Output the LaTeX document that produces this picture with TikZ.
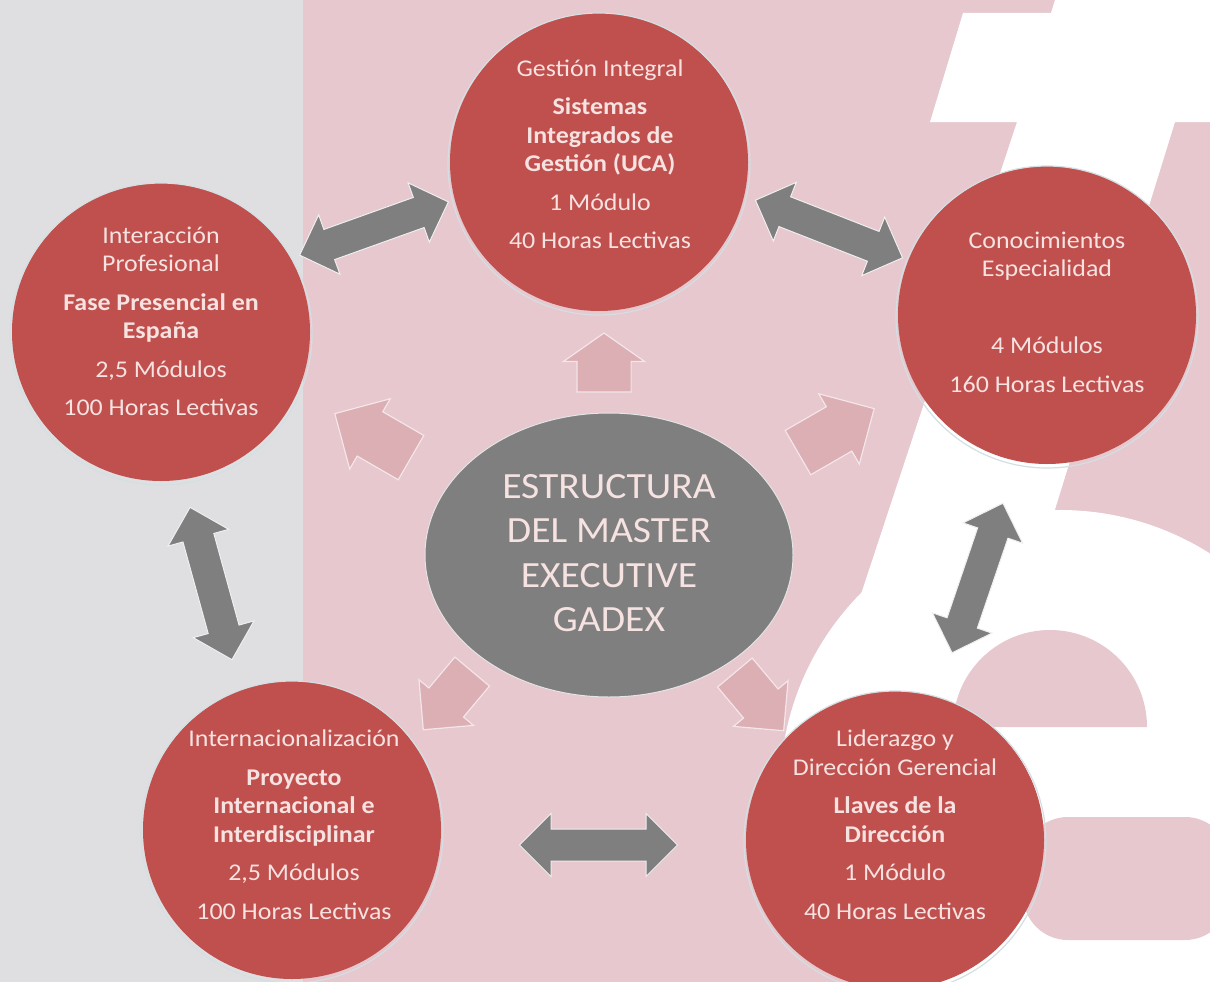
\documentclass[tikz,border=0pt]{standalone}
\usepackage{fontspec}
\setmainfont{Carlito}
\usetikzlibrary{shapes.arrows, shapes.geometric, positioning, calc}

\definecolor{fondogris}{HTML}{DFDFE1}
\definecolor{fondorosa}{HTML}{E6C8CE}
\definecolor{rojomod}{HTML}{C0504D}
\definecolor{rosatxt}{HTML}{F5E2E1}
\definecolor{grisflecha}{HTML}{7F7F7F}
\definecolor{rosaflecha}{HTML}{DBAFB4}
\definecolor{borde}{HTML}{D3DFE3}

\tikzset{
  modulo/.style={circle, fill=rojomod, minimum size=298pt, inner sep=0pt},
  anillo/.style={draw=borde, line width=1.2pt},
  modtxt/.style={text=rosatxt, align=center, inner sep=0pt, xscale=1.08,
    font=\fontsize{24}{28.5}\selectfont},
  flechaD/.style={double arrow, fill=grisflecha, draw=white!88!gray, line width=1pt,
    minimum height=158pt, inner xsep=0pt, inner ysep=15.5pt, double arrow head extend=15.5pt,
    double arrow head indent=0pt},
  flechaS/.style={single arrow, fill=rosaflecha, draw=white!55!fondorosa, line width=1.2pt,
    single arrow head indent=0pt, inner xsep=0pt},
}

\begin{document}
\begin{tikzpicture}[x=1pt, y=-1pt]
	\useasboundingbox (0,0) rectangle (1210,982);
	\clip (0,0) rectangle (1210,982);
	% fondo
	\fill[fondogris] (0,0) rectangle (303,982);
	\fill[fondorosa] (303,0) rectangle (1210,982);
	\fill[white] (1055,0) -- (1210,0) -- (1210,122) -- (1175,122) -- (996,700) -- (826,700)
		-- (1017,122) -- (930,122) -- (963,13) -- (1051,13) -- cycle;
	\fill[white] (1060,790) circle[radius=280];
	\fill[fondorosa] (953,727) arc[start angle=180, end angle=360, radius=97] -- cycle;
	\fill[fondorosa, rounded corners=45pt] (1230,817) -- (1023,817) -- (1023,940) -- (1230,940) -- cycle;

	% modulos
	\draw (599,162)  node[modulo] (gestion){}
	      (161,332)  node[modulo] (interaccion){}
	      (1047,315) node[modulo] (conocimientos){}
	      (292,830)  node[modulo] (internac){}
	      (895,840)  node[modulo] (liderazgo){};
	\foreach \m in {gestion, interaccion, conocimientos, internac, liderazgo}
		\draw[anillo] ([yshift=-2pt]\m.center) circle[radius=151];
	\node[ellipse, fill=grisflecha, draw=white!80!gray, line width=1pt,
	      minimum width=368pt, minimum height=284pt] (centro) at (609,555) {};

	\node[modtxt] (gestion-txt) at (600,154.5) {Gestión Integral\\[10pt]
		\textbf{Sistemas}\\ \textbf{Integrados de}\\ \textbf{Gestión (UCA)}\\[10pt]
		1 Módulo\\[10pt] 40 Horas Lectivas};
	\node[modtxt] (interaccion-txt) at (161,321.5) {Interacción\\ Profesional\\[10pt]
		\textbf{Fase Presencial en}\\ \textbf{España}\\[10pt]
		2,5 Módulos\\[10pt] 100 Horas Lectivas};
	\node[modtxt] (conocimientos-txt) at (1047,312) {Conocimientos\\ Especialidad\\[10pt]
		\mbox{}\\[10pt] 4 Módulos\\[10pt] 160 Horas Lectivas};
	\node[modtxt] (internac-txt) at (294,824.5) {Internacionalización\\[10pt]
		\textbf{Proyecto}\\ \textbf{Internacional e}\\ \textbf{Interdisciplinar}\\[10pt]
		2,5 Módulos\\[10pt] 100 Horas Lectivas};
	\node[modtxt] (liderazgo-txt) at (895,824.5) {Liderazgo y\\ Dirección Gerencial\\[10pt]
		\textbf{Llaves de la}\\ \textbf{Dirección}\\[10pt]
		1 Módulo\\[10pt] 40 Horas Lectivas};
	\node[text=rosatxt, align=center, xscale=1.07, font=\fontsize{37}{44.5}\selectfont] (centro-txt)
		at (609,553) {ESTRUCTURA\\ DEL MASTER\\ EXECUTIVE\\ GADEX};

	% flechas hacia fuera
	\node[flechaS, minimum height=59pt, inner ysep=26.5pt, single arrow head extend=13.5pt,
	      single arrow tip angle=110, rotate=90] (sal-n) at (604,372) {};
	\node[flechaS, minimum height=88pt, inner ysep=25pt, single arrow head extend=15pt,
	      rotate=150] (sal-no) at (384,442) {};
	\node[flechaS, minimum height=88pt, inner ysep=25pt, single arrow head extend=15pt,
	      rotate=30] (sal-ne) at (825,437) {};
	\node[flechaS, minimum height=76pt, inner ysep=22pt, single arrow head extend=13pt,
	      rotate=-130] (sal-so) at (455,692) {};
	\node[flechaS, minimum height=76pt, inner ysep=22pt, single arrow head extend=13pt,
	      rotate=-50] (sal-se) at (752,693) {};

	% flechas dobles entre modulos
	\node[flechaD, rotate=19.7] (int-ges) at (374,228.5) {};
	\node[flechaD, rotate=-21.4] (ges-con) at (829,229) {};
	\node[flechaD, rotate=105.4] (int-inter) at (211,583.5) {};
	\node[flechaD, rotate=71.2] (con-lid) at (977.5,578) {};
	\node[flechaD] (inter-lid) at (598.5,845) {};
\end{tikzpicture}
\end{document}
